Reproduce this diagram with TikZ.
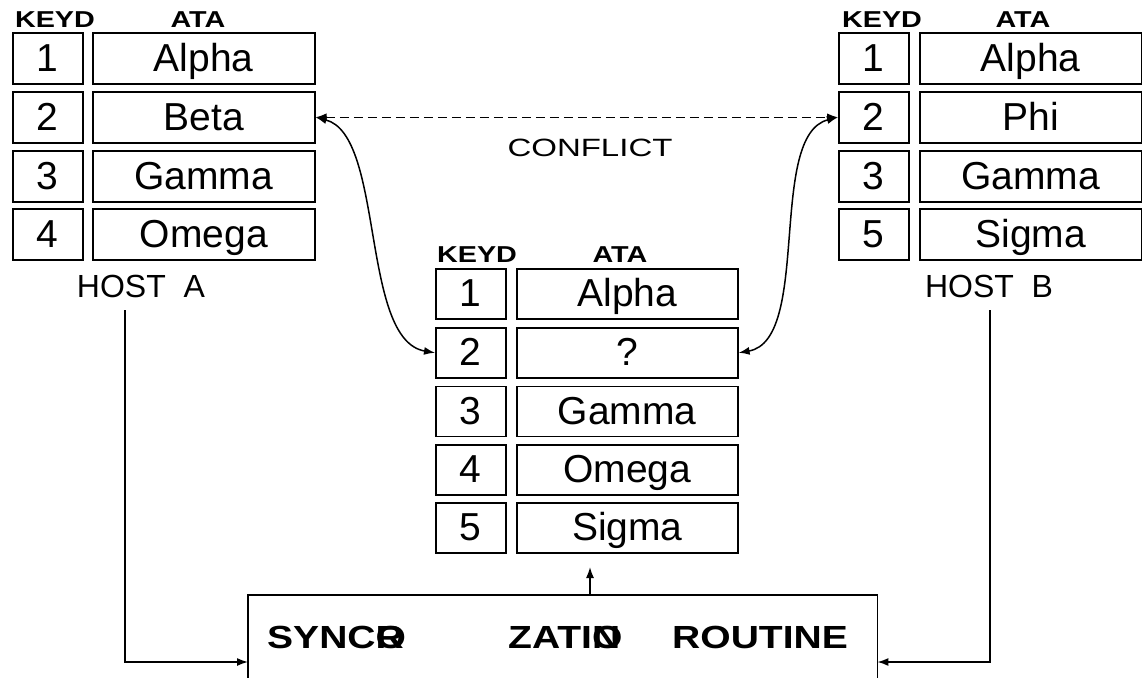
\documentclass[tikz,border=0pt]{standalone}
\usepackage{fontspec}
\setmainfont{Liberation Sans}
\newfontface\hdrfont[FakeStretch=1.25]{Liberation Sans Bold}
\newfontface\syncfont[FakeStretch=1.22]{Liberation Sans Bold}
\newfontface\conffont[FakeStretch=1.32]{Liberation Sans}
\usetikzlibrary{arrows.meta}
\begin{document}
\begin{tikzpicture}[x=1pt,y=-1pt,
  cell/.style={draw, line width=1.6pt, inner sep=0pt, anchor=north west,
    text height=26pt, text depth=0pt, font=\fontsize{39}{39}\selectfont},
  kbox/.style={cell, minimum width=70pt, minimum height=51pt},
  dbox/.style={cell, minimum width=222pt, minimum height=51pt},
  mkbox/.style={cell, minimum width=70pt, minimum height=50pt},
  mdbox/.style={cell, minimum width=221pt, minimum height=50pt},
  hdr/.style={anchor=base, inner sep=0pt, font=\hdrfont\fontsize{23}{23}\selectfont},
  host/.style={anchor=base, inner sep=0pt, font=\fontsize{32}{32}\selectfont},
  synctxt/.style={anchor=base west, inner sep=0pt, font=\syncfont\fontsize{32}{32}\selectfont},
  arr/.style={-{Latex[length=11pt,width=8pt]}, line width=1.5pt},
  arrboth/.style={{Latex[length=11pt,width=8pt]}-{Latex[length=11pt,width=8pt]}, line width=1.5pt}
]
\useasboundingbox (0,0) rectangle (1142,677);

% Host A
\node[hdr] (ahk) at (55,28) {KEYD};
\node[hdr] (ahd) at (198,28) {ATA};
\node[kbox] (a1k) at (12,32) {1};      \node[dbox] (a1d) at (92,32) {Alpha};
\node[kbox] (a2k) at (12,91) {2};      \node[dbox] (a2d) at (92,91) {Beta};
\node[kbox] (a3k) at (12,150) {3};     \node[dbox] (a3d) at (92,150) {Gamma};
\node[kbox] (a4k) at (12,208) {4};     \node[dbox] (a4d) at (92,208) {Omega};
\node[host] (hosta) at (141,297) {HOST\ \ A};

% Host B
\node[hdr] (bhk) at (882,28) {KEYD};
\node[hdr] (bhd) at (1023,28) {ATA};
\node[kbox] (b1k) at (838,32) {1};     \node[dbox] (b1d) at (919,32) {Alpha};
\node[kbox] (b2k) at (838,91) {2};     \node[dbox] (b2d) at (919,91) {Phi};
\node[kbox] (b3k) at (838,150) {3};    \node[dbox] (b3d) at (919,150) {Gamma};
\node[kbox] (b4k) at (838,208) {5};    \node[dbox] (b4d) at (919,208) {Sigma};
\node[host] (hostb) at (989,297) {HOST\ \ B};

% Middle
\node[hdr] (mhk) at (477,262) {KEYD};
\node[hdr] (mhd) at (620,262) {ATA};
\node[mkbox] (m1k) at (435,268) {1};   \node[mdbox] (m1d) at (516,268) {Alpha};
\node[mkbox] (m2k) at (435,327) {2};   \node[mdbox] (m2d) at (516,327) {?};
\node[mkbox] (m3k) at (435,385.5) {3}; \node[mdbox] (m3d) at (516,385.5) {Gamma};
\node[mkbox] (m4k) at (435,444) {4};   \node[mdbox] (m4d) at (516,444) {Omega};
\node[mkbox] (m5k) at (435,502) {5};   \node[mdbox] (m5d) at (516,502) {Sigma};

% Conflict
\draw[arrboth, dash pattern=on 9pt off 5pt] (a2d.east) -- (b2k.west);
\node[anchor=base, inner sep=0pt, font=\conffont\fontsize{25}{25}\selectfont] (conf) at (590,156) {CONFLICT};

% Curves
\draw[arrboth] (a2d.east) .. controls (385,135) and (360,340) .. (m2k.west);
\draw[arrboth] (b2k.west) .. controls (767,135) and (812,340) .. (m2d.east);

% Sync routine box (open at bottom)
\node[anchor=north west, minimum width=629pt, minimum height=83pt, inner sep=0pt] (sync) at (248,595) {};
\draw[line width=1.6pt] (sync.south west) |- (sync.north east) -- (sync.south east);
\node[synctxt] (s1) at (267,648) {SYNC\makebox[0pt][l]{R}O};
\node[synctxt] (s2) at (508,648) {ZATI\makebox[0pt][l]{O}N};
\node[synctxt] (s3) at (672,648) {ROUTINE};

% Connectors to sync
\coordinate (yl) at (0,662);
\coordinate (la) at (125,310);
\coordinate (lb) at (990,310);
\draw[arr] (la) |- (sync.west |- yl);
\draw[arr] (lb) |- (sync.east |- yl);
\coordinate (up1) at (590,595);
\coordinate (up2) at (590,567);
\draw[arr] (up1) -- (up2);
\end{tikzpicture}
\end{document}
